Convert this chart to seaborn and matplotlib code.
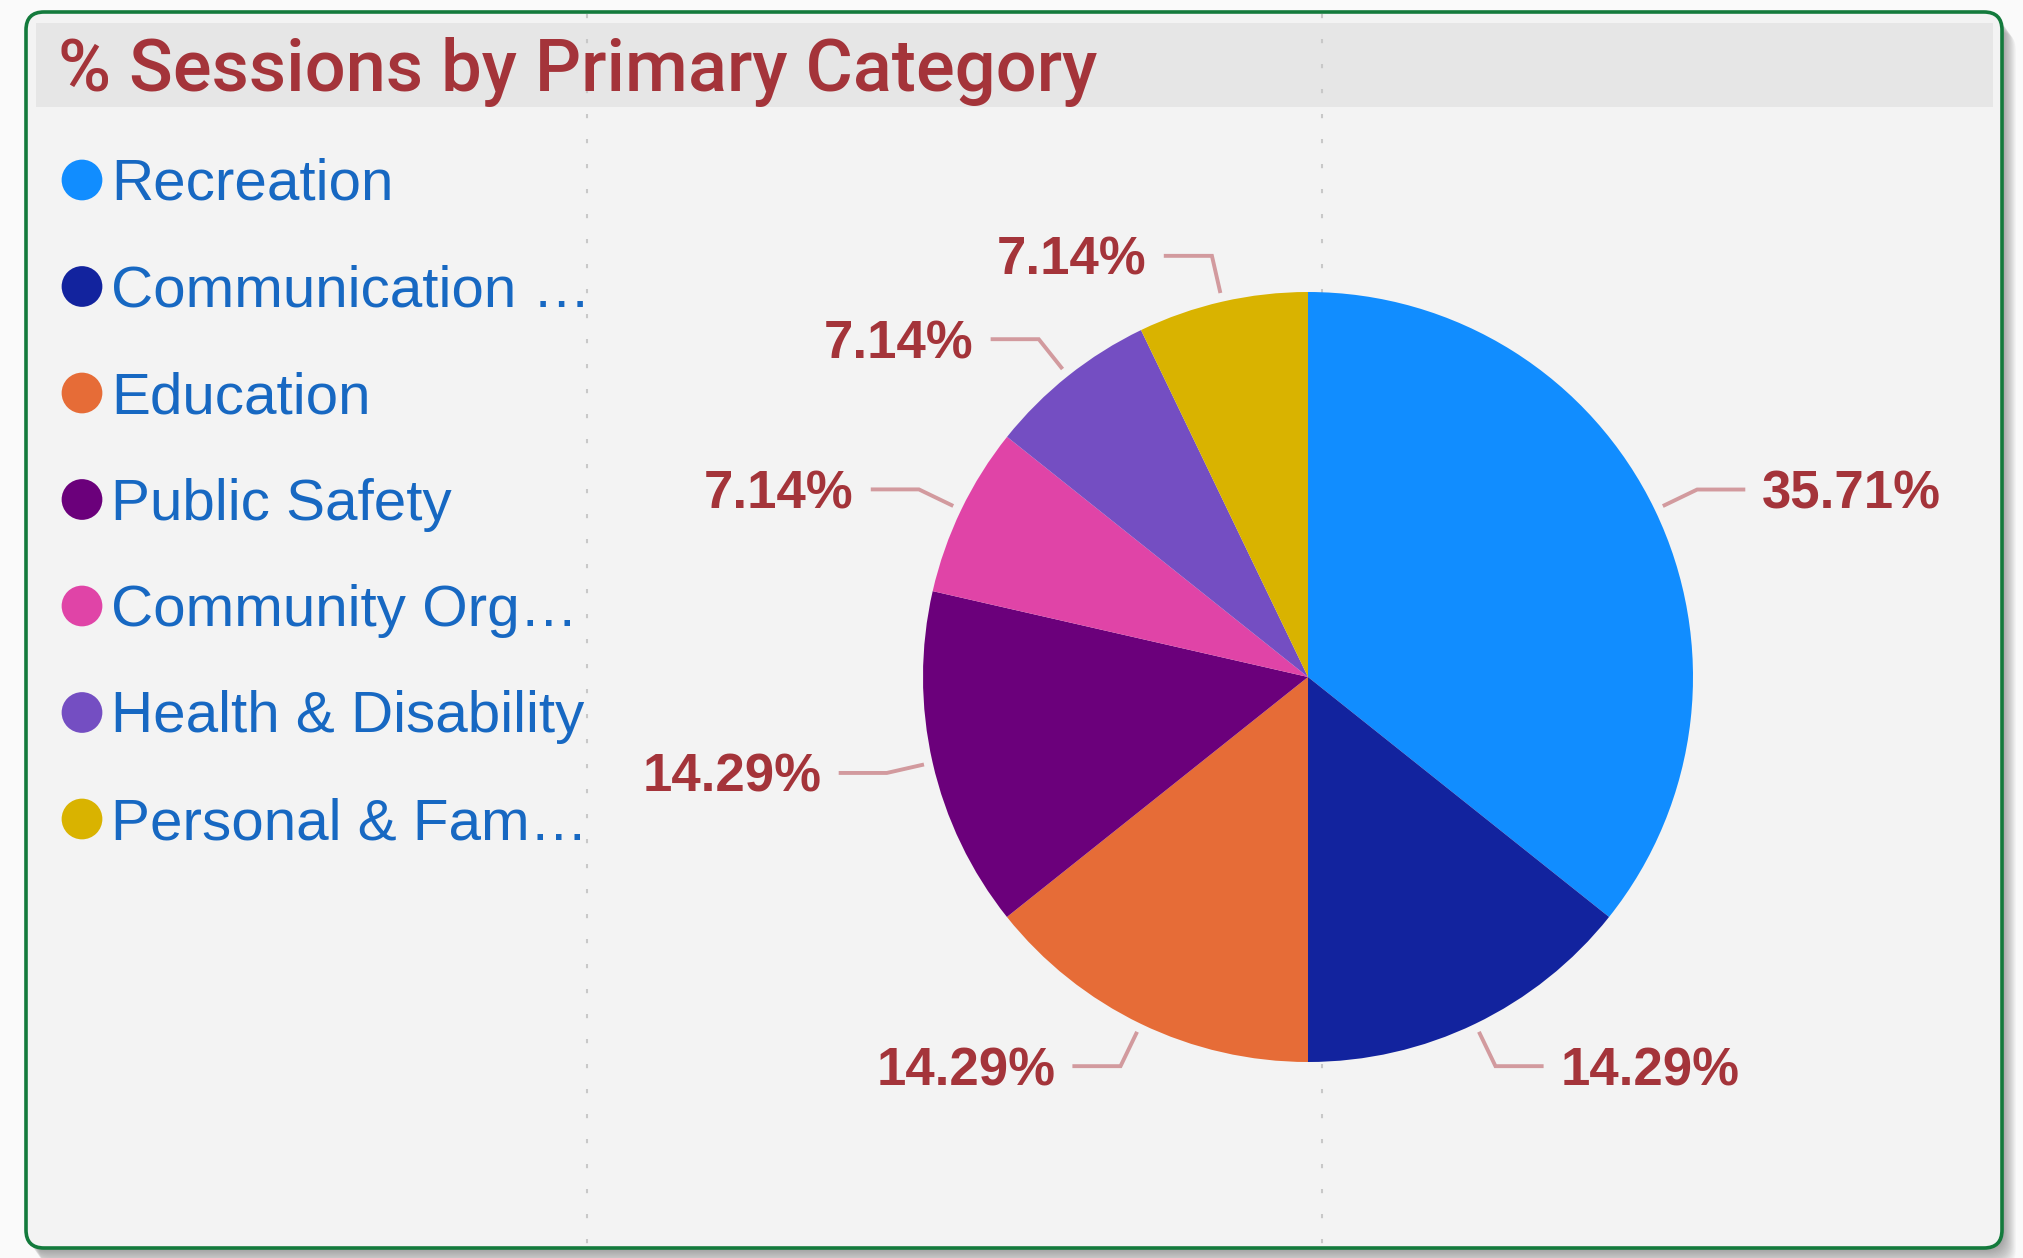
import matplotlib
matplotlib.use("Agg")
import matplotlib.pyplot as plt
import seaborn as sns
import numpy as np
from matplotlib.patches import FancyBboxPatch, Rectangle

# ---------------- data ----------------
title = "% Sessions by Primary Category"
categories = ["Recreation", "Communication \u2026", "Education", "Public Safety",
              "Community Org\u2026", "Health & Disability", "Personal & Fam\u2026"]
share = [35.71, 14.29, 14.29, 14.29, 7.14, 7.14, 7.14]
colors = ["#118DFF", "#12239E", "#E66C37", "#6B007B", "#E044A7", "#744EC2", "#D9B300"]

# ---------------- styling ----------------
sns.set_theme(style="white")
plt.rcParams["font.family"] = ["Liberation Sans", "DejaVu Sans"]
palette = sns.color_palette(colors)

W, H = 2023, 1258
fig = plt.figure(figsize=(W / 100, H / 100), dpi=100)
fig.patch.set_facecolor("#FAFAFA")

bg = fig.add_axes([0, 0, 1, 1], zorder=0)
bg.set_xlim(0, W)
bg.set_ylim(H, 0)
bg.axis("off")

# soft shadow (bottom / right)
for off in range(1, 21):
    bg.add_patch(FancyBboxPatch((26 + off * 0.7, 12 + off), 1976, 1236,
                                boxstyle="round,pad=0,rounding_size=18",
                                fc="black", ec="none", alpha=0.018))
# card
bg.add_patch(FancyBboxPatch((26, 12), 1976, 1236,
                            boxstyle="round,pad=0,rounding_size=18",
                            fc="#F3F3F3", ec="#137A3C", lw=2.6))
# dotted guides
for gx in (587, 1322):
    bg.plot([gx, gx], [14, 1246], color="#C8C8C8", lw=1.5,
            linestyle=(0, (2, 10)), solid_capstyle="butt")
# title bar
bg.add_patch(Rectangle((36, 23), 1957, 84, fc="#E6E6E6", ec="none"))
bg.text(58, 91, title, fontsize=52, color="#A4343A", family=["Roboto", "DejaVu Sans"],
        fontweight="medium", va="baseline", ha="left")

# legend
for i, (lab, col) in enumerate(zip(categories, palette)):
    y = 180 + 106.5 * i
    bg.scatter([82], [y], s=860, color=col, edgecolor="none")
    bg.text(111, y + 20, lab, fontsize=42, color="#1768C2", va="baseline", ha="left")

# ---------------- pie ----------------
cx, cy, R = 1308, 677, 385
ax = fig.add_axes([0, 0, 1, 1], zorder=1)
ax.patch.set_alpha(0)
wedges, _ = ax.pie(share, colors=palette, startangle=90, counterclock=False,
                   radius=1, wedgeprops=dict(linewidth=0))
ax.set_aspect("auto")
ax.set_xlim(-cx / R, (W - cx) / R)
ax.set_ylim(-(H - cy) / R, cy / R)
ax.axis("off")

cap = 0.716 * 53 / R
for w, v in zip(wedges, share):
    th = np.deg2rad((w.theta1 + w.theta2) / 2)
    c, s = np.cos(th), np.sin(th)
    sign = 1 if c >= 0 else -1
    x0, y0 = 1.023 * c, 1.023 * s
    x1, y1 = 1.122 * c, 1.122 * s
    x2 = x1 + sign * 0.125
    ax.plot([x0, x1, x2], [y0, y1, y1], color="#D29A9E", lw=2.8,
            solid_capstyle="butt", solid_joinstyle="miter")
    ax.text(x2 + sign * 0.044, y1 - cap / 2, f"{v:.2f}%", fontsize=38,
            fontweight="bold", color="#A4343A",
            ha="left" if sign > 0 else "right", va="baseline")

fig.savefig("out.png", dpi=100, facecolor=fig.get_facecolor())
